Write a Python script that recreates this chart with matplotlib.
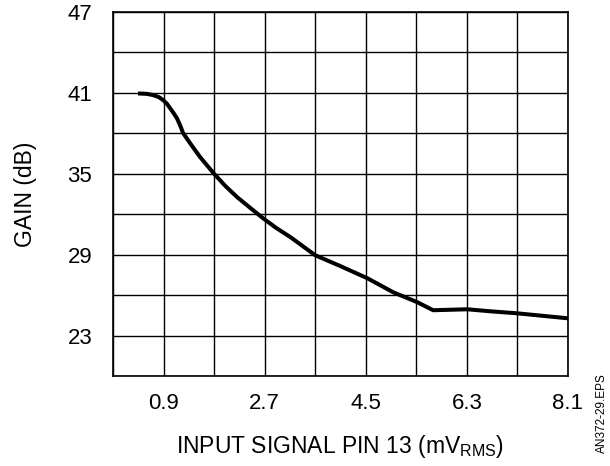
import matplotlib.pyplot as plt
import numpy as np

plt.rcParams['font.family'] = ['Liberation Sans', 'DejaVu Sans']
plt.rcParams['mathtext.default'] = 'regular'

# gain curve
input_mv = [0.446, 0.6, 0.713, 0.82, 0.891, 0.96, 1.016, 1.08, 1.141, 1.2,
            1.248, 1.373, 1.551, 1.8, 2.0, 2.21, 2.45, 2.67, 2.9, 3.16,
            3.6, 4.05, 4.53, 4.99, 5.42, 5.7, 6.31, 6.72, 7.2, 8.1]
gain_db = [40.96, 40.93, 40.84, 40.68, 40.47, 40.2, 39.87, 39.5, 39.1, 38.55,
           38.02, 37.27, 36.24, 35.0, 34.1, 33.27, 32.45, 31.71, 31.0, 30.3,
           28.96, 28.15, 27.25, 26.21, 25.47, 24.88, 24.95, 24.8, 24.65, 24.28]

x_ticks = [0.9, 2.7, 4.5, 6.3, 8.1]
y_ticks = [23, 29, 35, 41, 47]

fig = plt.figure(figsize=(6.1, 4.66), dpi=100)
ax = fig.add_axes([0.1852, 0.1931, 0.7459, 0.7811])

ax.plot(input_mv, gain_db, color='black', lw=2.9,
        solid_joinstyle='round', solid_capstyle='butt')

ax.set_xlim(0, 8.1)
ax.set_ylim(20, 47)
ax.set_xticks(np.arange(0, 8.11, 0.9), minor=True)
ax.set_yticks(np.arange(20, 47.1, 3), minor=True)
ax.set_xticks(x_ticks)
ax.set_yticks(y_ticks)
ax.grid(True, which='both', color='black', lw=1.0)
ax.tick_params(which='both', length=0, labelsize=16)
ax.tick_params(axis='x', pad=12)
ax.tick_params(axis='y', pad=15)

for s in ax.spines.values():
    s.set_linewidth(1.2)

ax.set_ylabel('GAIN (dB)', fontsize=16.5, labelpad=22)
ax.set_xlabel('INPUT SIGNAL PIN 13 (mV$_{RMS}$)', fontsize=16.5, labelpad=14)

fig.text(0.987, 0.028, 'AN372-29.EPS', rotation=90, fontsize=8.5,
         ha='center', va='bottom')

fig.savefig('out.png', dpi=100)
